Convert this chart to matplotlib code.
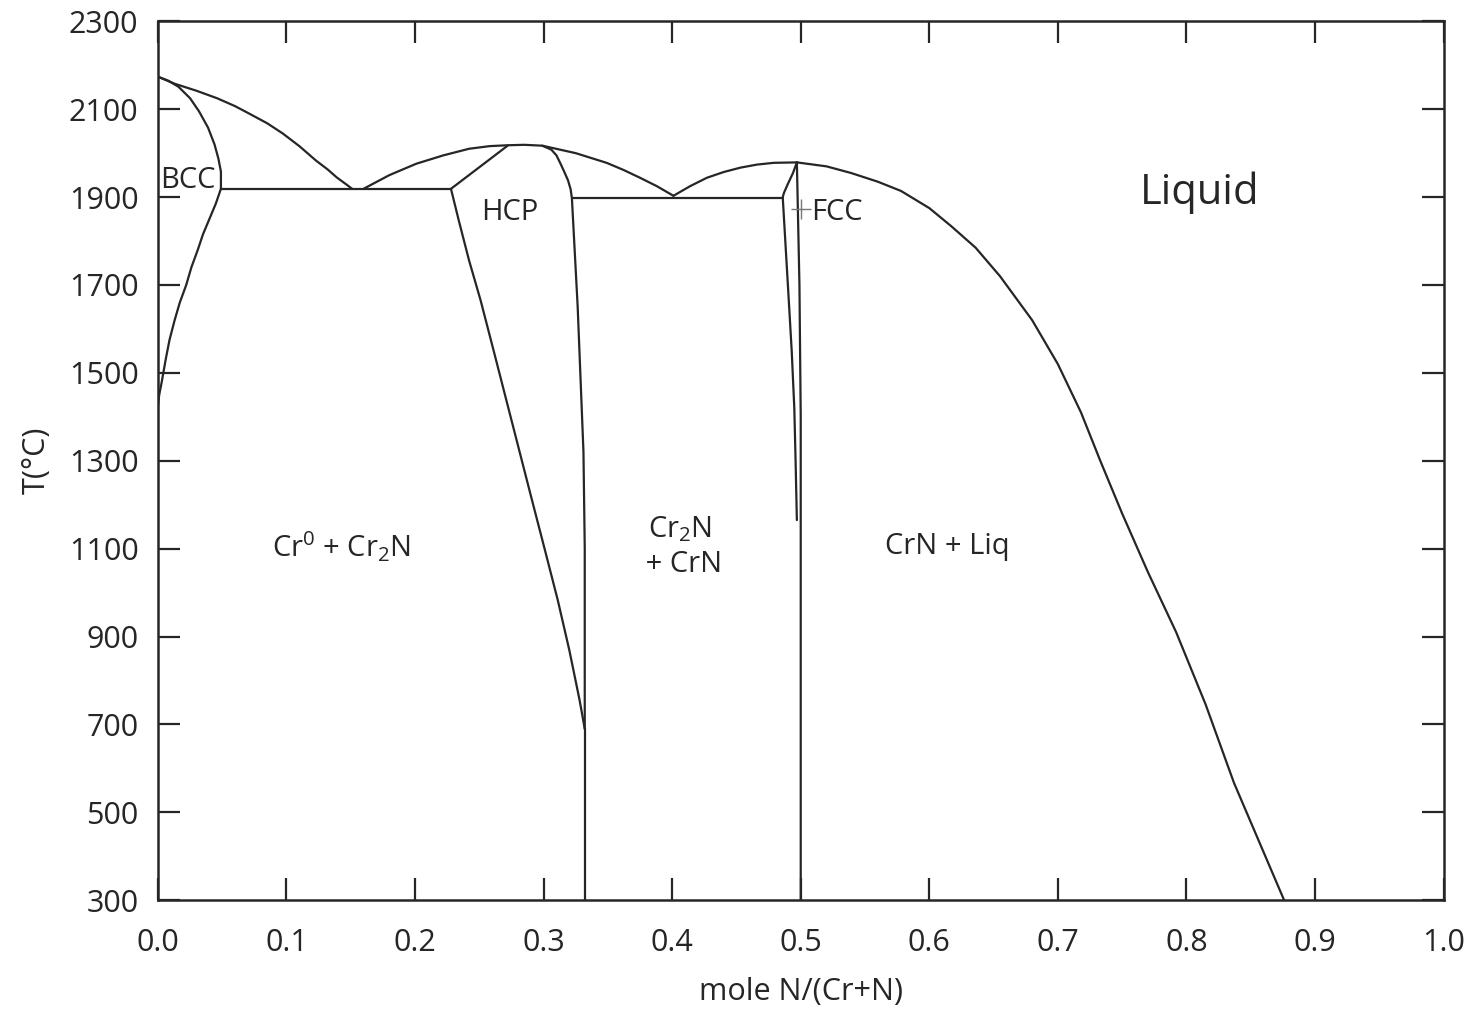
import numpy as np
import matplotlib
matplotlib.use("Agg")
import matplotlib.pyplot as plt

plt.rcParams['font.family'] = ['Open Sans', 'DejaVu Sans']
plt.rcParams['mathtext.fontset'] = 'custom'
plt.rcParams['mathtext.rm'] = 'Open Sans'
plt.rcParams['mathtext.it'] = 'Open Sans'

INK = '#262626'

# phase boundaries, (x = mole N/(Cr+N), T in C)
liq_bcc_x = [0.0, 0.013, 0.030, 0.046, 0.060, 0.071, 0.085, 0.097, 0.110, 0.123, 0.132, 0.139, 0.146, 0.151]
liq_bcc_t = [2174, 2158, 2142, 2125, 2107, 2090, 2068, 2045, 2016, 1983, 1963, 1945, 1930, 1919]

bcc_sol_x = [0.0, 0.008, 0.016, 0.025, 0.032, 0.039, 0.044, 0.047, 0.049, 0.049]
bcc_sol_t = [2174, 2165, 2151, 2125, 2095, 2058, 2020, 1988, 1958, 1919]

bcc_solv_x = [0.049, 0.045, 0.040, 0.035, 0.031, 0.026, 0.022, 0.017, 0.013, 0.009, 0.006, 0.003, 0.001, 0.0]
bcc_solv_t = [1919, 1885, 1850, 1815, 1780, 1740, 1700, 1660, 1620, 1575, 1530, 1480, 1450, 1425]

eut1_x = [0.049, 0.228]
eut1_t = [1919, 1919]

liq_hcp_x = [0.160, 0.180, 0.201, 0.222, 0.242, 0.258, 0.272, 0.285, 0.299,
             0.325, 0.349, 0.362, 0.375, 0.388, 0.401]
liq_hcp_t = [1919, 1950, 1976, 1995, 2010, 2016, 2018, 2019, 2017,
             2000, 1978, 1962, 1944, 1925, 1903]

hcp_left_x = [0.228, 0.272]
hcp_left_t = [1919, 2017]

hcp_right_x = [0.299, 0.306, 0.310, 0.313, 0.316, 0.319, 0.321, 0.322, 0.3265, 0.331, 0.332, 0.332]
hcp_right_t = [2017, 2008, 1995, 1977, 1958, 1938, 1918, 1898, 1650, 1320, 1100, 690]

hcp_low_x = [0.228, 0.234, 0.242, 0.251, 0.261, 0.271, 0.281, 0.291, 0.301, 0.311, 0.320, 0.328, 0.332]
hcp_low_t = [1918, 1847, 1756, 1665, 1552, 1438, 1324, 1210, 1097, 983, 869, 755, 690]

cr2n_x = [0.332, 0.332]
cr2n_t = [690, 300]

eut2_x = [0.322, 0.486]
eut2_t = [1898, 1898]

liq_fcc_x = [0.401, 0.414, 0.427, 0.440, 0.453, 0.466, 0.479, 0.497]
liq_fcc_t = [1903, 1925, 1944, 1957, 1967, 1974, 1978, 1979]

liq_right_x = [0.497, 0.520, 0.539, 0.560, 0.578, 0.600, 0.617, 0.636, 0.655, 0.680, 0.700,
               0.718, 0.733, 0.750, 0.770, 0.792, 0.815, 0.837, 0.876]
liq_right_t = [1979, 1970, 1955, 1935, 1914, 1875, 1834, 1785, 1720, 1620, 1520,
               1410, 1300, 1180, 1047, 910, 745, 567, 300]

fcc_left_x = [0.497, 0.494, 0.490, 0.487, 0.486, 0.487, 0.488, 0.489, 0.491, 0.493, 0.495, 0.496, 0.497]
fcc_left_t = [1979, 1955, 1930, 1910, 1900, 1850, 1800, 1750, 1650, 1549, 1420, 1300, 1165]

fcc_right_x = [0.497, 0.499, 0.500, 0.500]
fcc_right_t = [1979, 1700, 1400, 300]

boundaries = [
    (liq_bcc_x, liq_bcc_t), (bcc_sol_x, bcc_sol_t), (bcc_solv_x, bcc_solv_t),
    (eut1_x, eut1_t), (liq_hcp_x, liq_hcp_t), (hcp_left_x, hcp_left_t),
    (hcp_right_x, hcp_right_t), (hcp_low_x, hcp_low_t), (cr2n_x, cr2n_t),
    (eut2_x, eut2_t), (liq_fcc_x, liq_fcc_t), (liq_right_x, liq_right_t),
    (fcc_left_x, fcc_left_t), (fcc_right_x, fcc_right_t),
]

fig = plt.figure(figsize=(14.76, 10.16), dpi=100)
ax = fig.add_axes([0.107, 0.114, 0.871, 0.865])

for bx, bt in boundaries:
    ax.plot(bx, bt, color=INK, lw=1.6, solid_joinstyle='round', solid_capstyle='round')

# congruent point marker of CrN
ax.plot([0.500], [1873], marker='+', ms=14, mew=1.0, color='#777777')

ax.set_xlim(0, 1.0)
ax.set_ylim(300, 2300)
ax.set_xticks(np.arange(0, 1.01, 0.1))
ax.set_xticklabels([f'{v:.1f}' for v in np.arange(0, 1.01, 0.1)])
ax.set_yticks(np.arange(300, 2301, 200))

ax.tick_params(direction='in', length=16, width=1.6, colors=INK,
               top=True, right=True, labelsize=22)
ax.tick_params(axis='x', pad=20)
ax.tick_params(axis='y', pad=14)
for s in ax.spines.values():
    s.set_linewidth(1.8)
    s.set_color(INK)

ax.set_xlabel('mole N/(Cr+N)', fontsize=22, color=INK, labelpad=14)
ax.set_ylabel('T(°C)', fontsize=22, color=INK, labelpad=12)

lab = dict(color=INK, fontsize=21)
ax.text(0.002, 1937, 'BCC', ha='left', va='center', **lab)
ax.text(0.274, 1864, 'HCP', ha='center', va='center', **lab)
ax.text(0.508, 1866, 'FCC', ha='left', va='center', **lab)
ax.text(0.810, 1910, 'Liquid', ha='center', va='center', color=INK, fontsize=30)
ax.text(0.143, 1104, r'Cr$^{0}$ + Cr$_{2}$N', ha='center', va='center', **lab)
ax.text(0.406, 1104, 'Cr$_{2}$N\n + CrN', ha='center', va='center',
        linespacing=1.25, **lab)
ax.text(0.614, 1104, 'CrN + Liq', ha='center', va='center', **lab)

fig.savefig('out.png', dpi=100)
